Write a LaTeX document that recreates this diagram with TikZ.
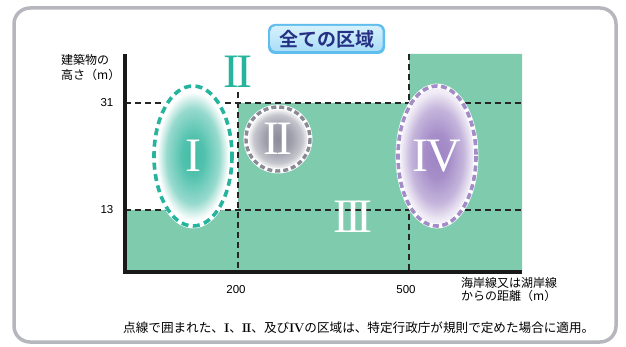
\documentclass[tikz,border=0pt]{standalone}
\usepackage{fontspec}
\newfontfamily\jp{Noto Sans CJK JP}[BoldFont={Noto Sans CJK JP Bold}]
\newfontfamily\numf{Liberation Sans}
\newfontfamily\romf{Liberation Serif}
\definecolor{gr}{RGB}{126,203,174}
\definecolor{tl}{RGB}{38,180,158}
\definecolor{tlc}{RGB}{66,188,166}
\definecolor{gy}{RGB}{138,138,150}
\definecolor{gyc}{RGB}{140,140,156}
\definecolor{pu}{RGB}{164,140,198}
\definecolor{puc}{RGB}{158,132,196}
\definecolor{nv}{RGB}{38,48,132}
\definecolor{fr}{RGB}{182,182,190}
\definecolor{bxin}{RGB}{214,240,252}
\definecolor{bxmid}{RGB}{170,222,247}
\definecolor{bxout}{RGB}{96,190,238}
\pgfdeclareradialshading{shI}{\pgfpoint{0bp}{0bp}}{color(0bp)=(tlc); color(7bp)=(tlc!92!white); color(17bp)=(tlc!55!white); color(23bp)=(white); color(25bp)=(white); color(50bp)=(white)}
\pgfdeclareradialshading{shII}{\pgfpoint{0bp}{0bp}}{color(0bp)=(gyc); color(10bp)=(gyc!85!white); color(19bp)=(gyc!50!white); color(24bp)=(white); color(25bp)=(white); color(50bp)=(white)}
\pgfdeclareradialshading{shIV}{\pgfpoint{0bp}{0bp}}{color(0bp)=(puc); color(8bp)=(puc!92!white); color(17bp)=(puc!60!white); color(23bp)=(white!85!puc); color(25bp)=(white!85!puc); color(50bp)=(white)}
\newcommand\romn[1]{{\normalfont\bfseries #1}}
\begin{document}
\begin{tikzpicture}[x=1pt,y=-1pt,
  dl/.style={black!85, line width=1.4, dash pattern=on 6 off 4},
  num/.style={text=white, inner sep=0pt, font=\romf\fontsize{48}{48}\selectfont},
  tick/.style={inner sep=0pt, font=\numf\fontsize{11.5}{12}\selectfont},
  lab/.style={inner sep=0pt, font=\jp\fontsize{12}{13.5}\selectfont},
  halo/.style={white, line width=4.8},
]
\useasboundingbox (0,0) rectangle (626,347);
\fill[white] (0,0) rectangle (626,347);
% frame
\draw[fr, line width=3.5, rounded corners=16] (14,8) rectangle (616,342);
% title box
\fill[bxout, rounded corners=7] (268,24) rectangle (385,54);
\shade[rounded corners=5, top color=bxin, bottom color=bxmid] (270.5,26) rectangle (382.5,51);
\node[inner sep=0pt, font=\jp\bfseries\fontsize{19}{20}\selectfont] (title) at (326.5,39) {\color{nv}全ての区域};
% green area
\fill[gr] (125,272) -- (125,210) -- (238,210) -- (238,103) -- (409,103) -- (409,54) -- (522,54) -- (522,272) -- cycle;
% dashed lines
\draw[dl] (125,103) -- (522,103);
\draw[dl] (125,210) -- (522,210);
\draw[dl] (238,92) -- (238,272);
\draw[dl] (409,54) -- (409,272);
% axes
\draw[black!90, line width=3.2] (125,54) -- (125,272) -- (522,272);
% ellipse I
\shade[shading=shI] (193,156) ellipse [x radius=39, y radius=70];
\draw[halo] (193,156) ellipse [x radius=39, y radius=70];
\draw[tl, line width=3.6, dash pattern=on 7 off 4.5] (193,156) ellipse [x radius=39, y radius=70];
% circle II
\shade[shading=shII] (278,139) circle [radius=32];
\draw[halo] (278,139) circle [radius=32];
\draw[gy, line width=3.4, dash pattern=on 5 off 3] (278,139) circle [radius=32];
% ellipse IV
\shade[shading=shIV] (437,156) ellipse [x radius=39, y radius=70];
\draw[halo] (437,156) ellipse [x radius=39, y radius=70];
\draw[pu, line width=3.6, dash pattern=on 6 off 3.5] (437,156) ellipse [x radius=39, y radius=70];
% numerals
\node[num] (nI) at (193,156) {I};
\node[num] (nII) at (278,139) {I\kern-0.08em I};
\node[num] (nIII) at (353,217) {I\kern-0.1em I\kern-0.1em I};
\node[num] (nIV) at (437,156) {I\kern-0.05em V};
\node[num, text=tl] (topII) at (238,72) {I\kern-0.08em I};
% ticks
\node[tick, anchor=east] (t31) at (113.5,103) {31};
\node[tick, anchor=east] (t13) at (113.5,210) {13};
\node[tick] (t200) at (236,289.5) {200};
\node[tick] (t500) at (406,289.5) {500};
% axis titles
\node[lab, align=left, anchor=north west] (ylab) at (61,54) {建築物の\\[2pt]高さ（m）};
\node[lab, align=left, anchor=north west] (xlab) at (461,277) {海岸線又は湖岸線\\からの距離（m）};
% note
\node[lab, anchor=west, font=\jp\fontsize{12.6}{14}\selectfont] (note) at (123,328) {点線で囲まれた、\romn{I}、\romn{I\kern-0.08em I}、及び\romn{I\kern-0.06em V}の区域は、特定行政庁が規則で定めた場合に適用。};
\end{tikzpicture}
\end{document}
